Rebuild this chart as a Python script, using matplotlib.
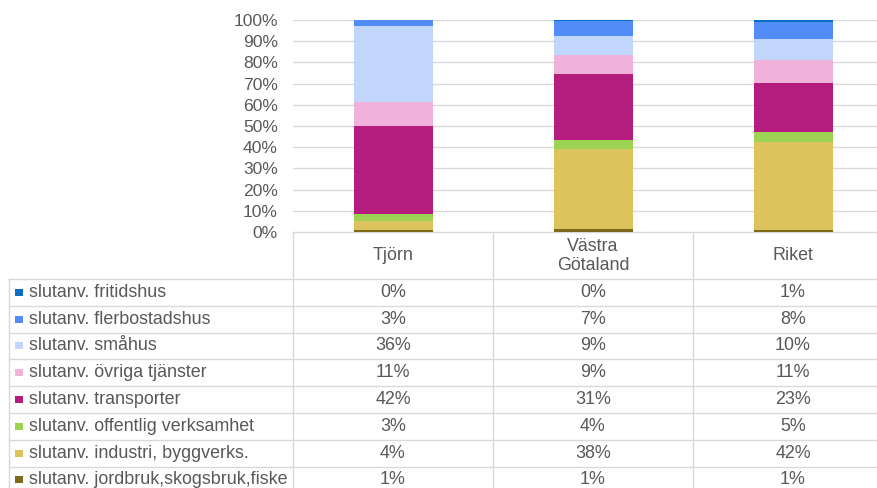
import matplotlib.pyplot as plt
from matplotlib.patches import Rectangle

plt.rcParams['font.family'] = ['Liberation Sans', 'DejaVu Sans']

regions = ["Tjörn", "Västra\nGötaland", "Riket"]

# series from the bottom of the stack upwards (share in %)
series = [
    "slutanv. jordbruk,skogsbruk,fiske",
    "slutanv. industri, byggverks.",
    "slutanv. offentlig verksamhet",
    "slutanv. transporter",
    "slutanv. övriga tjänster",
    "slutanv. småhus",
    "slutanv. flerbostadshus",
    "slutanv. fritidshus",
]
jordbruk = [0.8, 1.2, 1.0]
industri = [4.2, 38.0, 41.6]
offentlig = [3.4, 4.4, 4.6]
transporter = [41.6, 30.8, 23.2]
ovriga = [11.4, 9.3, 10.7]
smahus = [35.6, 8.8, 10.0]
flerbostad = [2.9, 7.1, 7.8]
fritidshus = [0.1, 0.4, 1.1]

values = [jordbruk, industri, offentlig, transporter, ovriga, smahus, flerbostad, fritidshus]
colors = ["#7f6a1b", "#dcc35c", "#9dd354", "#b41d7d", "#f0b1db", "#c2d6fc", "#528cf6", "#0a6fc2"]

TEXT = "#595959"
GRID = "#d9d9d9"
W, H = 877, 488
FS = 12.9

fig = plt.figure(figsize=(W / 100, H / 100), dpi=100)

# chart area: columns are 200 px wide starting at x=293
ax = fig.add_axes([293 / W, (H - 232) / H, 584 / W, 212 / H])
x = range(len(regions))
bottom = [0, 0, 0]
for vals, col in zip(values, colors):
    ax.bar(x, vals, width=0.395, bottom=bottom, color=col, linewidth=0, zorder=3)
    bottom = [b + v for b, v in zip(bottom, vals)]

ax.set_xlim(-0.5, 2.42)
ax.set_ylim(0, 100)
ax.set_yticks(range(0, 101, 10))
ax.set_yticklabels([f"{t}%" for t in range(0, 101, 10)])
ax.tick_params(axis='y', length=0, pad=11, labelsize=12.6, labelcolor=TEXT)
ax.set_xticks([])
ax.grid(axis='y', color=GRID, linewidth=1, zorder=0)
for s in ax.spines.values():
    s.set_visible(False)

# data table drawn in pixel coordinates
tab = fig.add_axes([0, 0, 1, 1], zorder=-1)
tab.set_xlim(0, W)
tab.set_ylim(H, 0)
tab.axis('off')

col_x = [293, 493, 693, 893]
row_top = 278.9
row_h = 26.8

tab.plot([293, W], [232, 232], color=GRID, lw=1)
for cx in col_x:
    tab.plot([cx, cx], [232, H], color=GRID, lw=1)
tab.plot([9, 9], [row_top, H], color=GRID, lw=1)
for i in range(len(series) + 1):
    y = row_top + i * row_h
    tab.plot([9, W], [y, y], color=GRID, lw=1)

for j, name in enumerate(regions):
    tab.text(col_x[j] + 100, 256, name, ha='center', va='center',
             fontsize=FS, color=TEXT, linespacing=1.15)

# table rows from the top of the stack down
for i, k in enumerate(reversed(range(len(series)))):
    yc = row_top + (i + 0.5) * row_h
    tab.add_patch(Rectangle((15, yc - 3.5), 8, 7, color=colors[k], lw=0))
    tab.text(29, yc, series[k], ha='left', va='center', fontsize=FS, color=TEXT)
    for j in range(len(regions)):
        tab.text(col_x[j] + 100, yc, f"{values[k][j]:.0f}%", ha='center',
                 va='center', fontsize=FS, color=TEXT)

fig.savefig("out.png", dpi=100)
